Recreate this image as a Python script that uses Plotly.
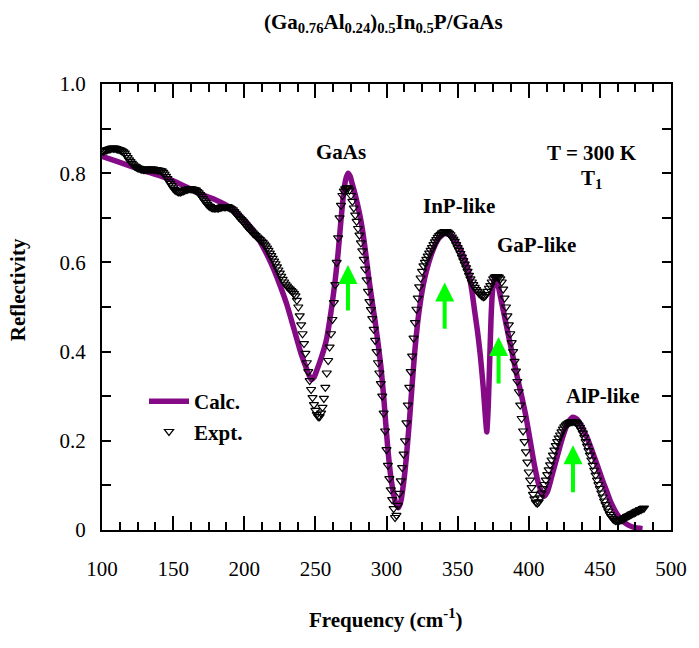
import plotly.graph_objects as go

# ---------------- data ----------------
calc_x = [100, 110, 120, 130, 140, 150, 160, 170, 180, 190, 200, 207, 213, 220, 225, 230, 235, 240, 244, 247,
          249, 251, 253.5, 256, 258, 260, 262, 264, 266, 268, 270, 271.5, 273, 274.5, 276, 278, 281, 283, 285, 287.4,
          290, 292, 294, 296, 298, 299.2, 301, 303, 305, 306.5, 308.5, 310, 312, 314, 316, 318, 320, 322, 324, 326,
          328, 331, 334, 337, 341, 345, 349, 353, 357, 360, 362, 364, 366, 368, 369.5, 370.5, 371.5, 372.5, 373.5, 374.5,
          376, 377.5, 380, 383, 386, 389, 392, 395, 398, 401, 404, 407, 410.5, 413, 416, 420, 424, 428, 431, 434,
          437, 441, 444, 448, 452, 455, 458, 462, 466, 470, 475, 480]
calc_y = [0.838, 0.827, 0.816, 0.805, 0.795, 0.783, 0.768, 0.752, 0.740, 0.723, 0.695, 0.668, 0.636, 0.590, 0.550, 0.505, 0.450, 0.395, 0.360, 0.337,
          0.342, 0.358, 0.380, 0.405, 0.430, 0.468, 0.512, 0.562, 0.622, 0.695, 0.760, 0.788, 0.800, 0.793, 0.775, 0.752, 0.710, 0.675, 0.630, 0.568,
          0.510, 0.468, 0.420, 0.368, 0.300, 0.250, 0.180, 0.120, 0.080, 0.060, 0.050, 0.063, 0.105, 0.165, 0.240, 0.325, 0.405, 0.468, 0.515, 0.552,
          0.580, 0.613, 0.638, 0.655, 0.665, 0.661, 0.647, 0.622, 0.587, 0.537, 0.490, 0.445, 0.390, 0.320, 0.255, 0.220, 0.275, 0.375, 0.475, 0.535,
          0.567, 0.562, 0.525, 0.478, 0.432, 0.387, 0.342, 0.300, 0.255, 0.200, 0.145, 0.102, 0.075, 0.085, 0.118, 0.165, 0.210, 0.243, 0.253, 0.248,
          0.233, 0.207, 0.182, 0.147, 0.110, 0.085, 0.060, 0.036, 0.020, 0.011, 0.005, 0.003]

expt_x = list(range(100, 482))
expt_y = [
    0.849, 0.850, 0.851, 0.852, 0.853, 0.854, 0.855, 0.856, 0.856, 0.856,  # 100
    0.855, 0.854, 0.853, 0.852, 0.850, 0.848, 0.845, 0.840, 0.835, 0.830,  # 110
    0.826, 0.822, 0.819, 0.816, 0.814, 0.812, 0.811, 0.810, 0.809, 0.808,  # 120
    0.808, 0.808, 0.809, 0.809, 0.809, 0.809, 0.809, 0.808, 0.808, 0.807,  # 130
    0.807, 0.806, 0.805, 0.802, 0.798, 0.793, 0.788, 0.782, 0.777, 0.772,  # 140
    0.767, 0.763, 0.761, 0.759, 0.758, 0.758, 0.759, 0.760, 0.762, 0.763,  # 150
    0.764, 0.765, 0.765, 0.765, 0.764, 0.763, 0.762, 0.759, 0.756, 0.752,  # 160
    0.748, 0.743, 0.738, 0.734, 0.730, 0.727, 0.725, 0.723, 0.722, 0.722,  # 170
    0.722, 0.722, 0.722, 0.723, 0.724, 0.725, 0.725, 0.725, 0.725, 0.724,  # 180
    0.722, 0.720, 0.718, 0.714, 0.710, 0.706, 0.702, 0.699, 0.696, 0.692,  # 190
    0.688, 0.684, 0.680, 0.677, 0.673, 0.670, 0.666, 0.663, 0.660, 0.657,  # 200
    0.654, 0.651, 0.648, 0.645, 0.641, 0.637, 0.632, 0.627, 0.621, 0.615,  # 210
    0.609, 0.603, 0.597, 0.590, 0.583, 0.576, 0.569, 0.562, 0.556, 0.551,  # 220
    0.547, 0.543, 0.540, 0.537, 0.534, 0.530, 0.525, 0.515, 0.500, 0.480,  # 230
    0.460, 0.440, 0.418, 0.396, 0.375, 0.355, 0.335, 0.315, 0.297, 0.281,  # 240
    0.268, 0.259, 0.254, 0.254, 0.262, 0.275, 0.295, 0.320, 0.352, 0.380,  # 250
    0.410, 0.440, 0.472, 0.510, 0.550, 0.600, 0.655, 0.700, 0.728, 0.750,  # 260
    0.760, 0.765, 0.767, 0.767, 0.762, 0.750, 0.737, 0.722, 0.706, 0.692,  # 270
    0.676, 0.661, 0.644, 0.626, 0.607, 0.585, 0.561, 0.535, 0.512, 0.494,  # 280
    0.474, 0.450, 0.425, 0.400, 0.375, 0.352, 0.328, 0.300, 0.262, 0.222,  # 290
    0.180, 0.145, 0.115, 0.090, 0.068, 0.048, 0.028, 0.033, 0.055, 0.082,  # 300
    0.110, 0.140, 0.170, 0.200, 0.240, 0.280, 0.320, 0.355, 0.390, 0.430,  # 310
    0.465, 0.495, 0.520, 0.545, 0.565, 0.580, 0.592, 0.600, 0.607, 0.614,  # 320
    0.621, 0.627, 0.633, 0.640, 0.646, 0.651, 0.656, 0.660, 0.663, 0.666,  # 330
    0.668, 0.669, 0.669, 0.668, 0.665, 0.662, 0.657, 0.652, 0.647, 0.640,  # 340
    0.633, 0.627, 0.620, 0.612, 0.604, 0.596, 0.588, 0.580, 0.571, 0.563,  # 350
    0.556, 0.550, 0.544, 0.539, 0.535, 0.531, 0.528, 0.525, 0.523, 0.524,  # 360
    0.528, 0.535, 0.542, 0.548, 0.556, 0.563, 0.567, 0.568, 0.568, 0.567,  # 370
    0.563, 0.556, 0.540, 0.520, 0.500, 0.480, 0.460, 0.440, 0.420, 0.400,  # 380
    0.378, 0.356, 0.333, 0.310, 0.280, 0.250, 0.222, 0.198, 0.175, 0.152,  # 390
    0.130, 0.112, 0.095, 0.080, 0.070, 0.062, 0.060, 0.063, 0.072, 0.083,  # 400
    0.093, 0.102, 0.112, 0.124, 0.135, 0.146, 0.157, 0.168, 0.179, 0.189,  # 410
    0.198, 0.206, 0.213, 0.220, 0.226, 0.231, 0.235, 0.238, 0.240, 0.242,  # 420
    0.243, 0.243, 0.243, 0.242, 0.239, 0.235, 0.230, 0.224, 0.217, 0.208,  # 430
    0.198, 0.188, 0.178, 0.168, 0.157, 0.145, 0.134, 0.123, 0.112, 0.102,  # 440
    0.093, 0.083, 0.074, 0.065, 0.057, 0.049, 0.042, 0.035, 0.030, 0.026,  # 450
    0.023, 0.021, 0.021, 0.021, 0.022, 0.023, 0.024, 0.026, 0.028, 0.030,  # 460
    0.032, 0.033, 0.035, 0.037, 0.038, 0.040, 0.042, 0.043, 0.045, 0.046,  # 470
    0.048, 0.049,                                                          # 480
]

x_tick_vals = [100, 150, 200, 250, 300, 350, 400, 450, 500]
x_tick_text = ["100", "150", "200", "250", "300", "350", "400", "450", "500"]
y_tick_vals = [0, 0.2, 0.4, 0.6, 0.8, 1.0]
y_tick_text = ["0", "0.2", "0.4", "0.6", "0.8", "1.0"]

# mode labels (text, x, y)
peak_labels = ["GaAs", "InP-like", "GaP-like", "AlP-like"]
peak_label_x = [268.2, 351.2, 405.3, 452.4]
peak_label_y = [0.848, 0.726, 0.640, 0.301]

# green arrows
arrow_x = [272.9, 340.9, 378.8, 431.1]
arrow_base = [0.489, 0.448, 0.325, 0.081]
arrow_tip = [0.594, 0.555, 0.433, 0.190]

SERIF = "Liberation Serif"
PURPLE = "#850A85"
GREEN = "#00FF00"

fig = go.Figure()
fig.add_trace(go.Scatter(
    x=calc_x, y=calc_y, mode="lines", name="Calc.",
    line=dict(color=PURPLE, width=5.5, shape="spline", smoothing=0.5),
))
fig.add_trace(go.Scatter(
    x=expt_x, y=expt_y, mode="markers", name="Expt.",
    marker=dict(symbol="triangle-down-open", size=8, color="black", line=dict(width=1.2, color="black")),
))

annotations = []
for t, x, y in zip(peak_labels, peak_label_x, peak_label_y):
    annotations.append(dict(x=x, y=y, xref="x", yref="y", text="<b>%s</b>" % t, showarrow=False,
                            font=dict(family=SERIF, size=21, color="black")))
annotations.append(dict(x=444.3, y=0.845, xref="x", yref="y", text="<b>T = 300 K</b>", showarrow=False,
                        font=dict(family=SERIF, size=21, color="black")))
annotations.append(dict(x=435.6, y=0.787, xref="x", yref="y", text="<b>T<sub>1</sub></b>", showarrow=False,
                        xanchor="left", font=dict(family=SERIF, size=21, color="black")))
for x, y0, y1 in zip(arrow_x, arrow_base, arrow_tip):
    annotations.append(dict(x=x, y=y1, ax=x, ay=y0, xref="x", yref="y", axref="x", ayref="y",
                            text="", showarrow=True, arrowhead=2, arrowsize=0.95, arrowwidth=4,
                            arrowcolor=GREEN))
# titles
annotations.append(dict(x=0.4956, y=1.170, xref="paper", yref="paper", yanchor="top",
                        text="<b>(Ga<sub>0.76</sub>Al<sub>0.24</sub>)<sub>0.5</sub>In<sub>0.5</sub>P/GaAs</b>",
                        showarrow=False, font=dict(family=SERIF, size=21, color="black")))
annotations.append(dict(x=0.4991, y=-0.233, xref="paper", yref="paper",
                        text="<b>Frequency (cm<sup>-1</sup>)</b>",
                        showarrow=False, font=dict(family=SERIF, size=21, color="black")))
annotations.append(dict(x=-0.172, y=0.538, xref="paper", yref="paper", textangle=-90,
                        text="<b>Reflectivity</b>",
                        showarrow=False, font=dict(family=SERIF, size=21, color="black")))

fig.update_layout(
    width=699, height=648,
    margin=dict(l=102, r=28, t=84, b=118),
    paper_bgcolor="white", plot_bgcolor="white",
    showlegend=True,
    legend=dict(x=0.0738, y=0.334, xanchor="left", yanchor="top", bgcolor="rgba(0,0,0,0)",
                font=dict(family=SERIF, size=21, color="black", weight="bold"),
                tracegroupgap=0, itemwidth=40),
    annotations=annotations,
)
fig.update_xaxes(
    range=[100, 500], showline=True, linecolor="black", linewidth=2, mirror="allticks",
    ticks="inside", ticklen=14, tickwidth=1.5, tickcolor="black",
    tickmode="array", tickvals=x_tick_vals, ticktext=x_tick_text,
    minor=dict(ticks="inside", ticklen=8, tickwidth=1.5, tickcolor="black", dtick=12.5, tick0=100),
    showgrid=False, zeroline=False, ticklabelstandoff=19,
    tickfont=dict(family=SERIF, size=21, color="black"),
)
fig.update_yaxes(
    range=[0, 1], showline=True, linecolor="black", linewidth=2, mirror="allticks",
    ticks="inside", ticklen=9, tickwidth=1.5, tickcolor="black",
    tickmode="array", tickvals=y_tick_vals, ticktext=y_tick_text,
    minor=dict(ticks="inside", ticklen=9, tickwidth=1.5, tickcolor="black", dtick=0.1, tick0=0),
    showgrid=False, zeroline=False, ticklabelstandoff=10,
    tickfont=dict(family=SERIF, size=21, color="black"),
)

fig.write_html("out.html")
